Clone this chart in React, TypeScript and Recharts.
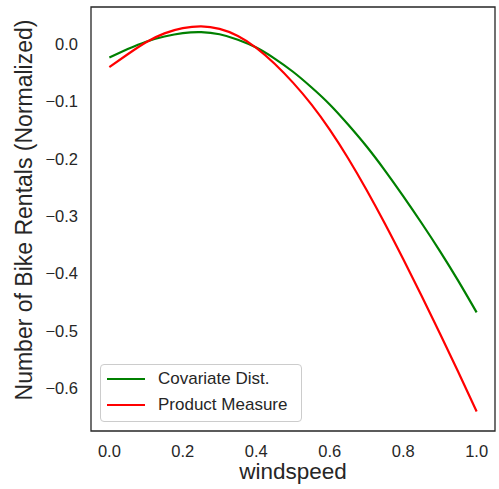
import React from "react";
import { LineChart, Line, XAxis, YAxis, ReferenceArea, Legend, Label } from "recharts";

const windspeed = [0, 0.05, 0.1, 0.15, 0.2, 0.25, 0.3, 0.35, 0.4, 0.45, 0.5, 0.55, 0.6, 0.65, 0.7, 0.75, 0.8, 0.85, 0.9, 0.95, 1.0];
const covariateDist = [-0.023, -0.0085, 0.0045, 0.0135, 0.0195, 0.0212, 0.0175, 0.008, -0.0058, -0.025, -0.048, -0.075, -0.105, -0.14, -0.178, -0.22, -0.265, -0.312, -0.361, -0.413, -0.468];
const productMeasure = [-0.04, -0.0175, 0.0035, 0.019, 0.028, 0.0312, 0.0268, 0.0145, -0.0062, -0.034, -0.067, -0.105, -0.149, -0.199, -0.254, -0.313, -0.375, -0.439, -0.505, -0.572, -0.641];
const xTicks = [0, 0.2, 0.4, 0.6, 0.8, 1.0];
const yTicks = [-0.6, -0.5, -0.4, -0.3, -0.2, -0.1, 0.0];
const seriesNames = ["Covariate Dist.", "Product Measure"];
const seriesColors = ["#008000", "#ff0000"];

const xDomain: [number, number] = [-0.05, 1.05];
const yDomain: [number, number] = [-0.675, 0.065];

const rows = windspeed.map((x, i) => ({ x, cov: covariateDist[i], prod: productMeasure[i] }));

const FONT = "'Liberation Sans', Arial, Helvetica, sans-serif";
const TEXT = "#262626";

const fmt = (v: number) => (v < -1e-9 ? "\u2212" : "") + Math.abs(v).toFixed(1);

const LegendBox = () => (
  <div
    style={{
      position: "relative",
      width: 202,
      height: 58,
      boxSizing: "border-box",
      border: "1px solid #cccccc",
      borderRadius: 4,
      background: "rgba(255,255,255,0.8)",
      fontFamily: FONT,
      fontSize: 17,
      color: TEXT,
    }}
  >
    {seriesNames.map((n, i) => (
      <div key={n} style={{ position: "absolute", left: 0, top: 14 + i * 26 - 10, height: 20, width: 200 }}>
        <div
          style={{
            position: "absolute",
            left: 6,
            top: 9,
            width: 38,
            height: 2,
            background: seriesColors[i],
          }}
        />
        <div style={{ position: "absolute", left: 57, top: 0, lineHeight: "20px", whiteSpace: "nowrap" }}>{n}</div>
      </div>
    ))}
  </div>
);

export default function App() {
  return (
    <div style={{ position: "absolute", left: 0, top: 0 }}>
      <LineChart width={499} height={489} data={rows} margin={{ top: 7, right: 4, bottom: 0, left: 0 }}>
        <XAxis
          type="number"
          dataKey="x"
          domain={xDomain}
          ticks={xTicks}
          tickFormatter={fmt}
          height={58}
          axisLine={false}
          tickLine={false}
          tickSize={0}
          tickMargin={14}
          tick={{ fontFamily: FONT, fontSize: 16.5, fill: TEXT }}
          allowDataOverflow
        >
          <Label
            content={() => (
              <text x={293} y={479} textAnchor="middle" fontFamily={FONT} fontSize={22.5} fill={TEXT}>
                windspeed
              </text>
            )}
          />
        </XAxis>
        <YAxis
          type="number"
          domain={yDomain}
          ticks={yTicks}
          tickFormatter={fmt}
          width={91}
          axisLine={false}
          tickLine={false}
          tickSize={0}
          tickMargin={13}
          tick={{ fontFamily: FONT, fontSize: 16.5, fill: TEXT }}
          allowDataOverflow
        >
          <Label
            content={() => (
              <text
                x={31.5}
                y={210}
                transform="rotate(-90, 31.5, 210)"
                textAnchor="middle"
                fontFamily={FONT}
                fontSize={23}
                fill={TEXT}
              >
                Number of Bike Rentals (Normalized)
              </text>
            )}
          />
        </YAxis>
        <Line
          type="natural"
          dataKey="cov"
          name={seriesNames[0]}
          stroke={seriesColors[0]}
          strokeWidth={2.2}
          dot={false}
          isAnimationActive={false}
        />
        <Line
          type="natural"
          dataKey="prod"
          name={seriesNames[1]}
          stroke={seriesColors[1]}
          strokeWidth={2.2}
          dot={false}
          isAnimationActive={false}
        />
        <ReferenceArea
          x1={xDomain[0]}
          x2={xDomain[1]}
          y1={yDomain[0]}
          y2={yDomain[1]}
          fill="none"
          stroke={TEXT}
          strokeWidth={1.3}
          ifOverflow="visible"
        />
        <Legend
          layout="vertical"
          align="center"
          verticalAlign="middle"
          content={() => <LegendBox />}
          wrapperStyle={{ position: "absolute", left: 100, top: 364, width: 202, height: 58 }}
        />
      </LineChart>
    </div>
  );
}
